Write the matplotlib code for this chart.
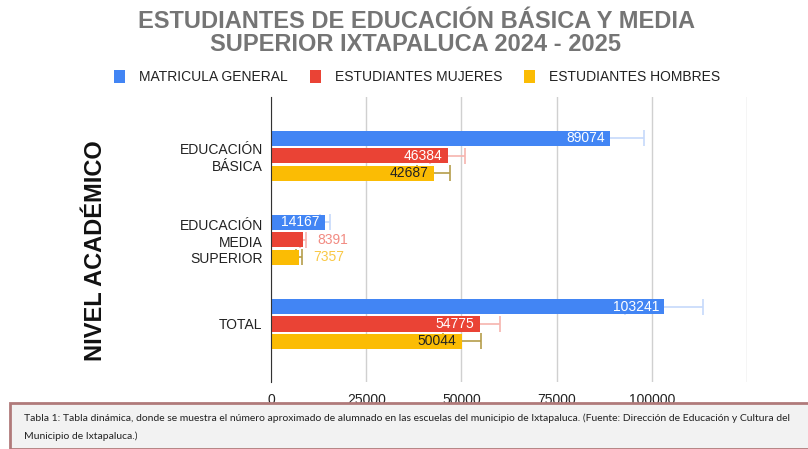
import numpy as np
import matplotlib.pyplot as plt
from matplotlib.patches import Rectangle

# data
categorias = ['EDUCACIÓN\nBÁSICA', 'EDUCACIÓN\nMEDIA\nSUPERIOR', 'TOTAL']
series = ['MATRICULA GENERAL', 'ESTUDIANTES MUJERES', 'ESTUDIANTES HOMBRES']
matricula = [89074, 14167, 103241]
mujeres = [46384, 8391, 54775]
hombres = [42687, 7357, 50044]
x_ticks = [0, 25000, 50000, 75000, 100000, 125000]
x_labels = ['0', '25000', '50000', '75000', '100000', '']

colores = ['#4285f4', '#ea4335', '#fbbc04']
col_err = ['#c6d9fb', '#f6b4ae', '#b59d4a']
col_txt_in = ['white', 'white', '#222222']
col_txt_out = ['#4285f4', '#f28b82', '#f9c846']

plt.rcParams['font.family'] = ['Liberation Sans', 'DejaVu Sans']

fig = plt.figure(figsize=(8.08, 4.49), dpi=100)
ax = fig.add_axes([271/808, 1-382/449, (747-271)/808, 285/449])

y = np.arange(len(categorias))
off = 0.208
h = 0.18
datos = [matricula, mujeres, hombres]
barras = []
for k, vals in enumerate(datos):
    vals = np.array(vals)
    yy = y + (k-1)*off
    b = ax.barh(yy, vals, height=h, color=colores[k], label=series[k], zorder=3)
    barras.append(b)
    # error bars 10%, drawn under the bars
    ax.errorbar(vals, yy, xerr=vals*0.1, fmt='none', ecolor=col_err[k],
                elinewidth=1.2, capsize=5.5, capthick=1.2, zorder=2)
    for v, yi in zip(vals, yy):
        if v > 12000:
            ax.text(v - 1300, yi, str(v), ha='right', va='center',
                    color=col_txt_in[k], fontsize=10, zorder=4)
        else:
            ax.text(v*1.1 + 3000, yi, str(v), ha='left', va='center',
                    color=col_txt_out[k], fontsize=10, zorder=4)

ax.set_xlim(0, 125000)
ax.set_ylim(2.69, -0.70)
ax.set_xticks(x_ticks)
ax.set_xticklabels(x_labels, fontsize=10, color='#222222')
ax.set_yticks(y)
ax.set_yticklabels(categorias, fontsize=10, color='#222222', ha='right',
                   multialignment='right')
ax.tick_params(length=0, pad=6)
ax.tick_params(axis='x', pad=8)
ax.grid(axis='x', color='#d0d0d0', lw=1, zorder=0)
for s in ['top', 'right', 'bottom']:
    ax.spines[s].set_visible(False)
ax.spines['left'].set_color('#333333')
ax.spines['left'].set_zorder(5)

fig.text(95/808, 1-251/449, 'NIVEL ACADÉMICO', rotation=90, ha='center',
         va='center', fontsize=17, fontweight='bold', color='#111111')

fig.text(416/808, 1-33/449, 'ESTUDIANTES DE EDUCACIÓN BÁSICA Y MEDIA\nSUPERIOR IXTAPALUCA 2024 - 2025',
         ha='center', va='center', fontsize=17, fontweight='bold',
         color='#757575', linespacing=1.0)

fig.legend(handles=barras, labels=series, loc='center', ncol=3,
           bbox_to_anchor=(417/808, 1-77/449), frameon=False, fontsize=10,
           handlelength=0.8, handleheight=1.1, columnspacing=1.6,
           handletextpad=1.0, labelcolor='#222222')

# caption box
fig.patches.append(Rectangle((10/808, 0), 1, (449-403)/449,
                             transform=fig.transFigure, facecolor='#f2f2f2',
                             edgecolor='#b07a7a', lw=2, zorder=0))
fig.text(24/808, 1-418/449,
         'Tabla 1: Tabla dinámica, donde se muestra el número aproximado de alumnado en las escuelas del municipio de Ixtapaluca. (Fuente: Dirección de Educación y Cultura del',
         fontsize=7.45, family=['Lato', 'DejaVu Sans'], color='#222222', va='center')
fig.text(24/808, 1-436/449, 'Municipio de Ixtapaluca.)',
         fontsize=7.45, family=['Lato', 'DejaVu Sans'], color='#222222', va='center')

fig.savefig('out.png', dpi=100)
